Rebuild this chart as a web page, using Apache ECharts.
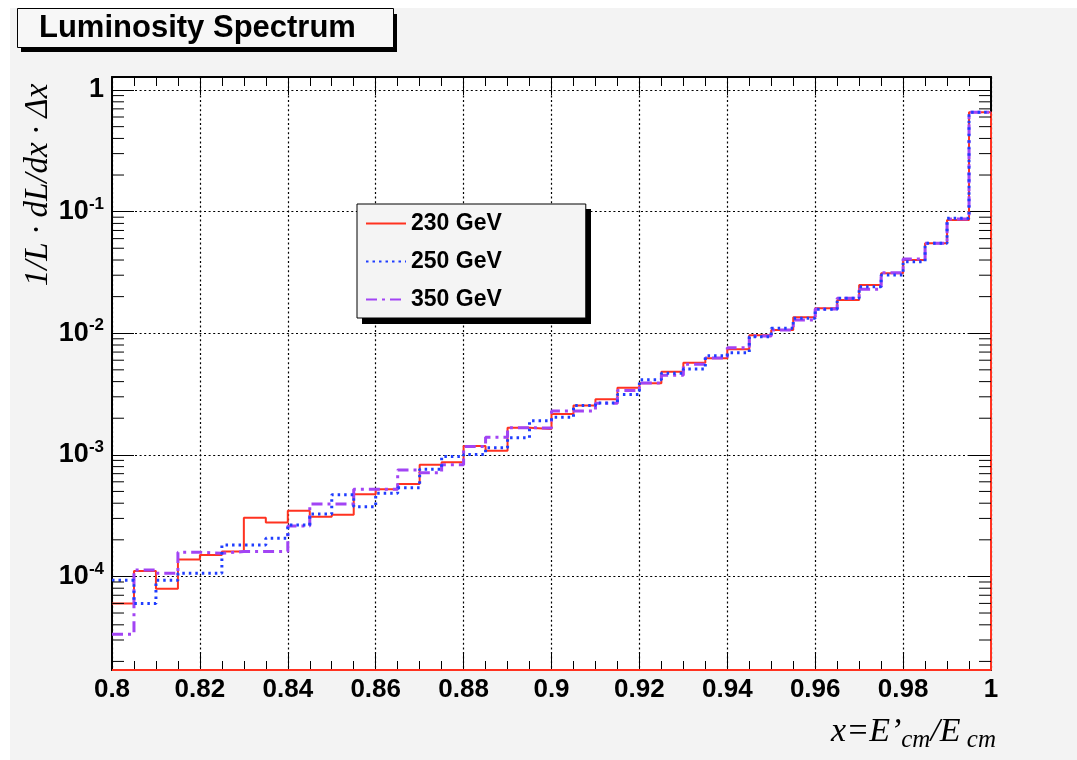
<!DOCTYPE html>
<html>
<head>
<meta charset="utf-8">
<script src="https://cdn.jsdelivr.net/npm/echarts@6/dist/echarts.min.js"></script>
<style>
  html, body { margin: 0; padding: 0; background: #ffffff; }
  #chart { width: 1077px; height: 760px; }
</style>
</head>
<body>
<div id="chart"></div>
<script>
// Bin lower edges of x = E'cm/Ecm (40 bins of width 0.005 from 0.8 to 1.0)
const binEdges = Array.from({ length: 41 }, (_, k) => +(0.8 + 0.005 * k).toFixed(3));

// 1/L dL/dx * dx per bin
const lum230 = [
  6.0e-5, 1.11e-4, 7.9e-5, 1.38e-4, 1.50e-4, 1.60e-4, 3.04e-4, 2.77e-4, 3.47e-4, 3.10e-4,
  3.22e-4, 4.73e-4, 5.20e-4, 5.75e-4, 8.29e-4, 8.69e-4, 1.18e-3, 1.08e-3, 1.67e-3, 1.63e-3,
  2.17e-3, 2.55e-3, 2.86e-3, 3.56e-3, 3.87e-3, 4.83e-3, 5.72e-3, 6.22e-3, 7.37e-3, 9.61e-3,
  1.062e-2, 1.351e-2, 1.602e-2, 1.875e-2, 2.49e-2, 3.11e-2, 4.00e-2, 5.49e-2, 8.53e-2, 0.656
];
const lum250 = [
  9.3e-5, 6.0e-5, 9.3e-5, 1.06e-4, 1.06e-4, 1.81e-4, 1.81e-4, 2.06e-4, 2.65e-4, 3.26e-4,
  4.70e-4, 3.74e-4, 4.82e-4, 5.36e-4, 7.60e-4, 9.68e-4, 1.006e-3, 1.144e-3, 1.382e-3, 1.907e-3,
  2.034e-3, 2.55e-3, 2.67e-3, 3.13e-3, 4.14e-3, 4.68e-3, 5.08e-3, 6.53e-3, 6.91e-3, 9.36e-3,
  1.097e-2, 1.326e-2, 1.572e-2, 1.936e-2, 2.41e-2, 3.01e-2, 3.87e-2, 5.49e-2, 8.81e-2, 0.656
];
const lum350 = [
  3.34e-5, 1.13e-4, 1.06e-4, 1.58e-4, 1.55e-4, 1.60e-4, 1.60e-4, 1.60e-4, 2.60e-4, 3.94e-4,
  3.94e-4, 5.20e-4, 5.20e-4, 7.50e-4, 7.13e-4, 8.29e-4, 1.17e-3, 1.393e-3, 1.67e-3, 1.661e-3,
  2.29e-3, 2.29e-3, 2.65e-3, 3.38e-3, 3.90e-3, 4.51e-3, 5.56e-3, 6.25e-3, 7.60e-3, 9.48e-3,
  1.062e-2, 1.284e-2, 1.581e-2, 1.936e-2, 2.30e-2, 3.15e-2, 4.08e-2, 5.49e-2, 8.69e-2, 0.656
];

const seriesNames = ['230 GeV', '250 GeV', '350 GeV'];
const xTickLabels = ['0.8', '0.82', '0.84', '0.86', '0.88', '0.9', '0.92', '0.94', '0.96', '0.98', '1'];

const X_MIN = 0.8, X_MAX = 1.0;
const Y_MIN = 1.70e-5, Y_MAX = 1.28;

const SANS = '"Liberation Sans", Helvetica, Arial, sans-serif';
const SERIF = '"Liberation Serif", "Times New Roman", serif';

// Histogram outline: one point per bin lower edge plus the upper edge of the last bin
function histPoints(values) {
  const pts = values.map((v, k) => [binEdges[k], v]);
  pts.push([binEdges[values.length], values[values.length - 1]]);
  return pts;
}

// Log-axis minor ticks (2..9 x 10^n) inside the frame
const minorLogTicks = [];
for (let e = -5; e <= 0; e++) {
  for (let m = 2; m <= 9; m++) {
    const v = m * Math.pow(10, e);
    if (v > Y_MIN && v < Y_MAX) minorLogTicks.push([0.9, v]);
  }
}

const dotted = { color: '#000', width: 1.2, type: [2, 2.6] };

// the first histogram is closed down to the frame bottom
const redPts = histPoints(lum230);
redPts.push([X_MAX, Y_MIN], [X_MIN, Y_MIN]);

const chart = echarts.init(document.getElementById('chart'), null, { renderer: 'canvas' });

chart.setOption({
  animation: false,
  backgroundColor: '#ffffff',
  title: {
    text: 'Luminosity Spectrum',
    left: 17,
    top: 9,
    padding: [4, 38, 4, 22],
    backgroundColor: '#f7f7f7',
    borderColor: '#000',
    borderWidth: 1,
    textStyle: { fontFamily: SANS, fontWeight: 'bold', fontSize: 31, lineHeight: 30, color: '#000' },
    z: 10
  },
  legend: {
    orient: 'vertical',
    left: 357,
    top: 204,
    data: seriesNames,
    itemWidth: 40,
    itemHeight: 14,
    itemGap: 15,
    padding: [8, 84, 7, 8],
    backgroundColor: '#f4f4f4',
    borderColor: '#000',
    borderWidth: 1,
    itemStyle: { opacity: 0 },
    textStyle: { fontFamily: SANS, fontWeight: 'bold', fontSize: 23, color: '#000' },
    z: 10
  },
  grid: {
    left: 112, right: 86, top: 77, bottom: 90,
    show: true, backgroundColor: '#ffffff', borderWidth: 0
  },
  xAxis: [
    {
      type: 'value', position: 'bottom', min: X_MIN, max: X_MAX, interval: 0.02,
      axisLine: { show: true, onZero: false, lineStyle: { color: '#000', width: 2 } },
      axisTick: { show: true, inside: true, length: 18, lineStyle: { color: '#000', width: 1 } },
      minorTick: { show: true, splitNumber: 4, length: 9, lineStyle: { color: '#000', width: 1 } },
      axisLabel: {
        margin: 7, color: '#000', fontFamily: SANS, fontWeight: 'bold', fontSize: 26,
        formatter: v => xTickLabels[Math.round((v - X_MIN) / 0.02)]
      },
      splitLine: { show: true, lineStyle: dotted }
    },
    {
      type: 'value', position: 'top', min: X_MIN, max: X_MAX, interval: 0.02,
      axisLine: { show: true, onZero: false, lineStyle: { color: '#000', width: 2 } },
      axisTick: { show: true, inside: true, length: 18, lineStyle: { color: '#000', width: 1 } },
      minorTick: { show: true, splitNumber: 4, length: 9, lineStyle: { color: '#000', width: 1 } },
      axisLabel: { show: false },
      splitLine: { show: false }
    }
  ],
  yAxis: [
    {
      type: 'log', logBase: 10, position: 'left', min: Y_MIN, max: Y_MAX, splitNumber: 5,
      axisLine: { show: true, onZero: false, lineStyle: { color: '#000', width: 2 } },
      axisTick: { show: true, inside: true, length: 22, lineStyle: { color: '#000', width: 1 } },
      axisLabel: {
        margin: 8, color: '#000',
        formatter: v => {
          const e = Math.log10(v);
          const r = Math.round(e);
          if (Math.abs(e - r) > 1e-6) return '';
          return r === 0 ? '{b|1}' : '{b|10}{s|' + r + '}';
        },
        rich: {
          b: { fontFamily: SANS, fontWeight: 'bold', fontSize: 27, lineHeight: 32, color: '#000' },
          s: { fontFamily: SANS, fontWeight: 'bold', fontSize: 17, lineHeight: 15, verticalAlign: 'top', color: '#000' }
        }
      },
      splitLine: { show: true, lineStyle: dotted }
    },
    {
      type: 'log', logBase: 10, position: 'right', min: Y_MIN, max: Y_MAX, splitNumber: 5,
      axisLine: { show: true, onZero: false, lineStyle: { color: '#000', width: 2 } },
      axisTick: { show: true, inside: true, length: 22, lineStyle: { color: '#000', width: 1 } },
      axisLabel: { show: false },
      splitLine: { show: false }
    }
  ],
  graphic: [
    // canvas fill behind everything
    { type: 'rect', z: -10, silent: true, shape: { x: 10, y: 8, width: 1067, height: 752 }, style: { fill: '#f3f3f3' } },
    // drop shadows of the title and legend boxes
    { type: 'rect', z: 9, shape: { x: 21, y: 14, width: 376, height: 38 }, style: { fill: '#000' } },
    { type: 'rect', z: 9, shape: { x: 362, y: 209, width: 229, height: 115 }, style: { fill: '#000' } },
    {
      type: 'text', z: 10, x: 38, y: 185, rotation: Math.PI / 2,
      style: {
        text: '1/L · dL/dx · Δx',
        font: 'italic 33px ' + SERIF, fill: '#000', align: 'center', verticalAlign: 'middle'
      }
    },
    {
      type: 'text', z: 10, x: 996, y: 734,
      style: {
        text: '{m|x=E’}{d|cm}{m|/E}{d| cm}',
        align: 'right', verticalAlign: 'middle',
        rich: {
          m: { font: 'italic 34px ' + SERIF, fill: '#000', lineHeight: 38, verticalAlign: 'top' },
          d: { font: 'italic 25px ' + SERIF, fill: '#000', lineHeight: 34, verticalAlign: 'bottom' }
        }
      }
    }
  ],
  series: [
    {
      name: '230 GeV', type: 'line', step: 'end', symbol: 'none', z: 3,
      data: redPts,
      lineStyle: { color: '#ff3220', width: 2 },
      itemStyle: { color: '#ff3220' }
    },
    {
      name: '350 GeV', type: 'line', step: 'end', symbol: 'none', z: 3,
      data: histPoints(lum350),
      lineStyle: { color: '#a244f4', width: 3, type: [11, 5, 3, 5] },
      itemStyle: { color: '#a244f4' }
    },
    {
      name: '250 GeV', type: 'line', step: 'end', symbol: 'none', z: 3,
      data: histPoints(lum250),
      lineStyle: { color: '#1f3dff', width: 3, type: [2.5, 4] },
      itemStyle: { color: '#1f3dff' }
    },
    {
      type: 'custom', silent: true, z: 4, clip: false,
      data: minorLogTicks,
      encode: { x: 0, y: 1 },
      renderItem: (params, api) => {
        const cs = params.coordSys;
        const y = api.coord([api.value(0), api.value(1)])[1];
        const len = 12;
        return {
          type: 'group',
          children: [
            { type: 'line', shape: { x1: cs.x, y1: y, x2: cs.x + len, y2: y }, style: { stroke: '#000', lineWidth: 1 } },
            { type: 'line', shape: { x1: cs.x + cs.width - len, y1: y, x2: cs.x + cs.width, y2: y }, style: { stroke: '#000', lineWidth: 1 } }
          ]
        };
      }
    }
  ]
});
</script>
</body>
</html>
